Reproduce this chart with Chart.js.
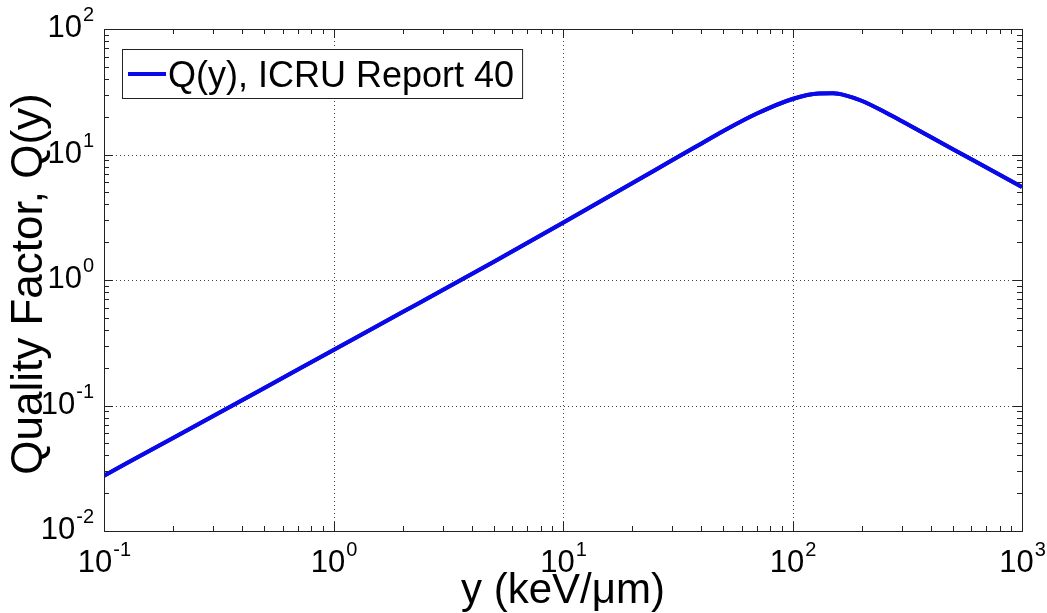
<!DOCTYPE html>
<html>
<head>
<meta charset="utf-8">
<script src="https://cdn.jsdelivr.net/npm/chart.js@4"></script>
<style>
  body { margin: 0; background: #fff; }
  #wrap { width: 1047px; height: 613px; }
</style>
</head>
<body>
<div id="wrap"><canvas id="chart" width="1047" height="613"></canvas></div>
<script>
// values
const lineal = [0.1, 0.2, 0.5, 1, 2, 5, 10, 20, 30, 40, 50, 70, 100, 130, 150, 170, 200, 250, 300, 500, 700, 1000];
const quality = [0.0276, 0.0551, 0.138, 0.277, 0.555, 1.40, 2.86, 5.89, 9.03, 12.2, 15.4, 21.2, 27.7, 30.6, 30.7, 29.6, 26.8, 22.0, 18.4, 11.0, 7.87, 5.51];
const xDecades = [0.1, 1, 10, 100, 1000];
const yDecades = [0.01, 0.1, 1, 10, 100];
const seriesLabel = 'Q(y), ICRU Report 40';
const xTitle = 'y (keV/\u03bcm)';
const yTitle = 'Quality Factor, Q(y)';

const FONT = '"Liberation Sans", Arial, sans-serif';

const expOf = v => Math.round(Math.log10(v));

// minor ticks 2..9 x 10^n inside the range
const minors = (decs) => {
  const out = [];
  for (let i = 0; i < decs.length - 1; i++) {
    for (let k = 2; k <= 9; k++) out.push(decs[i] * k);
  }
  return out;
};

const drawPow = (ctx, x, y, exp, align) => {
  const base = '10';
  const sup = String(exp);
  ctx.font = '31px ' + FONT;
  const wb = ctx.measureText(base).width;
  ctx.font = '20px ' + FONT;
  const ws = ctx.measureText(sup).width;
  let left = align === 'right' ? x - wb - ws : x - (wb + ws) / 2;
  ctx.fillStyle = '#000';
  ctx.textBaseline = 'alphabetic';
  ctx.textAlign = 'left';
  ctx.font = '31px ' + FONT;
  ctx.fillText(base, left, y);
  ctx.font = '20px ' + FONT;
  ctx.fillText(sup, left + wb + 1, y - 16);
};

const axesPlugin = {
  id: 'matlabAxes',
  afterDraw(chart) {
    const { ctx, chartArea: a, scales } = chart;
    const xs = scales.x, ys = scales.y;
    ctx.save();

    // dotted grid at decades
    ctx.strokeStyle = '#444';
    ctx.lineWidth = 1;
    ctx.setLineDash([1, 3]);
    xDecades.forEach(v => {
      const px = Math.round(xs.getPixelForValue(v)) + 0.5;
      ctx.beginPath(); ctx.moveTo(px, a.top); ctx.lineTo(px, a.bottom); ctx.stroke();
    });
    yDecades.forEach(v => {
      const py = Math.round(ys.getPixelForValue(v)) + 0.5;
      ctx.beginPath(); ctx.moveTo(a.left, py); ctx.lineTo(a.right, py); ctx.stroke();
    });
    ctx.setLineDash([]);

    // redraw line over grid
    const meta = chart.getDatasetMeta(0);
    ctx.save();
    ctx.beginPath();
    ctx.rect(a.left, a.top, a.right - a.left, a.bottom - a.top);
    ctx.clip();
    meta.dataset.draw(ctx, a);
    ctx.restore();

    // box
    ctx.strokeStyle = '#222';
    ctx.lineWidth = 1;
    ctx.strokeRect(Math.round(a.left) + 0.5, Math.round(a.top) + 0.5,
      Math.round(a.right - a.left), Math.round(a.bottom - a.top));

    // tick marks, inside, all four sides
    const tick = (x1, y1, x2, y2) => { ctx.beginPath(); ctx.moveTo(x1, y1); ctx.lineTo(x2, y2); ctx.stroke(); };
    xDecades.forEach(v => {
      const px = Math.round(xs.getPixelForValue(v)) + 0.5;
      tick(px, a.bottom, px, a.bottom - 9); tick(px, a.top, px, a.top + 9);
    });
    minors(xDecades).forEach(v => {
      const px = Math.round(xs.getPixelForValue(v)) + 0.5;
      tick(px, a.bottom, px, a.bottom - 5); tick(px, a.top, px, a.top + 5);
    });
    yDecades.forEach(v => {
      const py = Math.round(ys.getPixelForValue(v)) + 0.5;
      tick(a.left, py, a.left + 9, py); tick(a.right, py, a.right - 9, py);
    });
    minors(yDecades).forEach(v => {
      const py = Math.round(ys.getPixelForValue(v)) + 0.5;
      tick(a.left, py, a.left + 5, py); tick(a.right, py, a.right - 5, py);
    });

    // tick labels
    xDecades.forEach(v => drawPow(ctx, xs.getPixelForValue(v), a.bottom + 41, expOf(v), 'center'));
    yDecades.forEach(v => drawPow(ctx, a.left - 11, ys.getPixelForValue(v) + 8, expOf(v), 'right'));

    // axis titles
    ctx.fillStyle = '#000';
    ctx.font = '42px ' + FONT;
    ctx.textAlign = 'center';
    ctx.textBaseline = 'alphabetic';
    ctx.fillText(xTitle, (a.left + a.right) / 2, 603);
    ctx.save();
    ctx.translate(42, (a.top + a.bottom) / 2 + 4);
    ctx.rotate(-Math.PI / 2);
    ctx.font = '44px ' + FONT;
    ctx.fillText(yTitle, 0, 0);
    ctx.restore();

    // legend box
    const ds = chart.data.datasets[0];
    ctx.font = '36px ' + FONT;
    const tw = ctx.measureText(ds.label).width;
    const lx = a.left + 18, ly = a.top + 20, lh = 49;
    const lw = 46 + tw + 8;
    ctx.fillStyle = '#fff';
    ctx.fillRect(lx, ly, lw, lh);
    ctx.strokeStyle = '#222';
    ctx.lineWidth = 1;
    ctx.strokeRect(lx + 0.5, ly + 0.5, lw, lh);
    ctx.strokeStyle = ds.borderColor;
    ctx.lineWidth = ds.borderWidth;
    tick(lx + 6, ly + 25, lx + 44, ly + 25);
    ctx.fillStyle = '#000';
    ctx.textAlign = 'left';
    ctx.textBaseline = 'alphabetic';
    ctx.fillText(ds.label, lx + 46, ly + 38);

    ctx.restore();
  }
};

new Chart(document.getElementById('chart'), {
  type: 'line',
  data: {
    datasets: [{
      label: seriesLabel,
      data: lineal.map((x, i) => ({ x, y: quality[i] })),
      borderColor: 'rgb(10, 10, 232)',
      borderWidth: 4,
      pointRadius: 0,
      cubicInterpolationMode: 'monotone',
      fill: false
    }]
  },
  options: {
    responsive: false,
    animation: false,
    layout: { padding: { left: 104, right: 25, top: 29, bottom: 82 } },
    plugins: { legend: { display: false }, tooltip: { enabled: false } },
    scales: {
      x: { type: 'logarithmic', min: 0.1, max: 1000, display: false },
      y: { type: 'logarithmic', min: 0.01, max: 100, display: false }
    }
  },
  plugins: [axesPlugin]
});
</script>
</body>
</html>
